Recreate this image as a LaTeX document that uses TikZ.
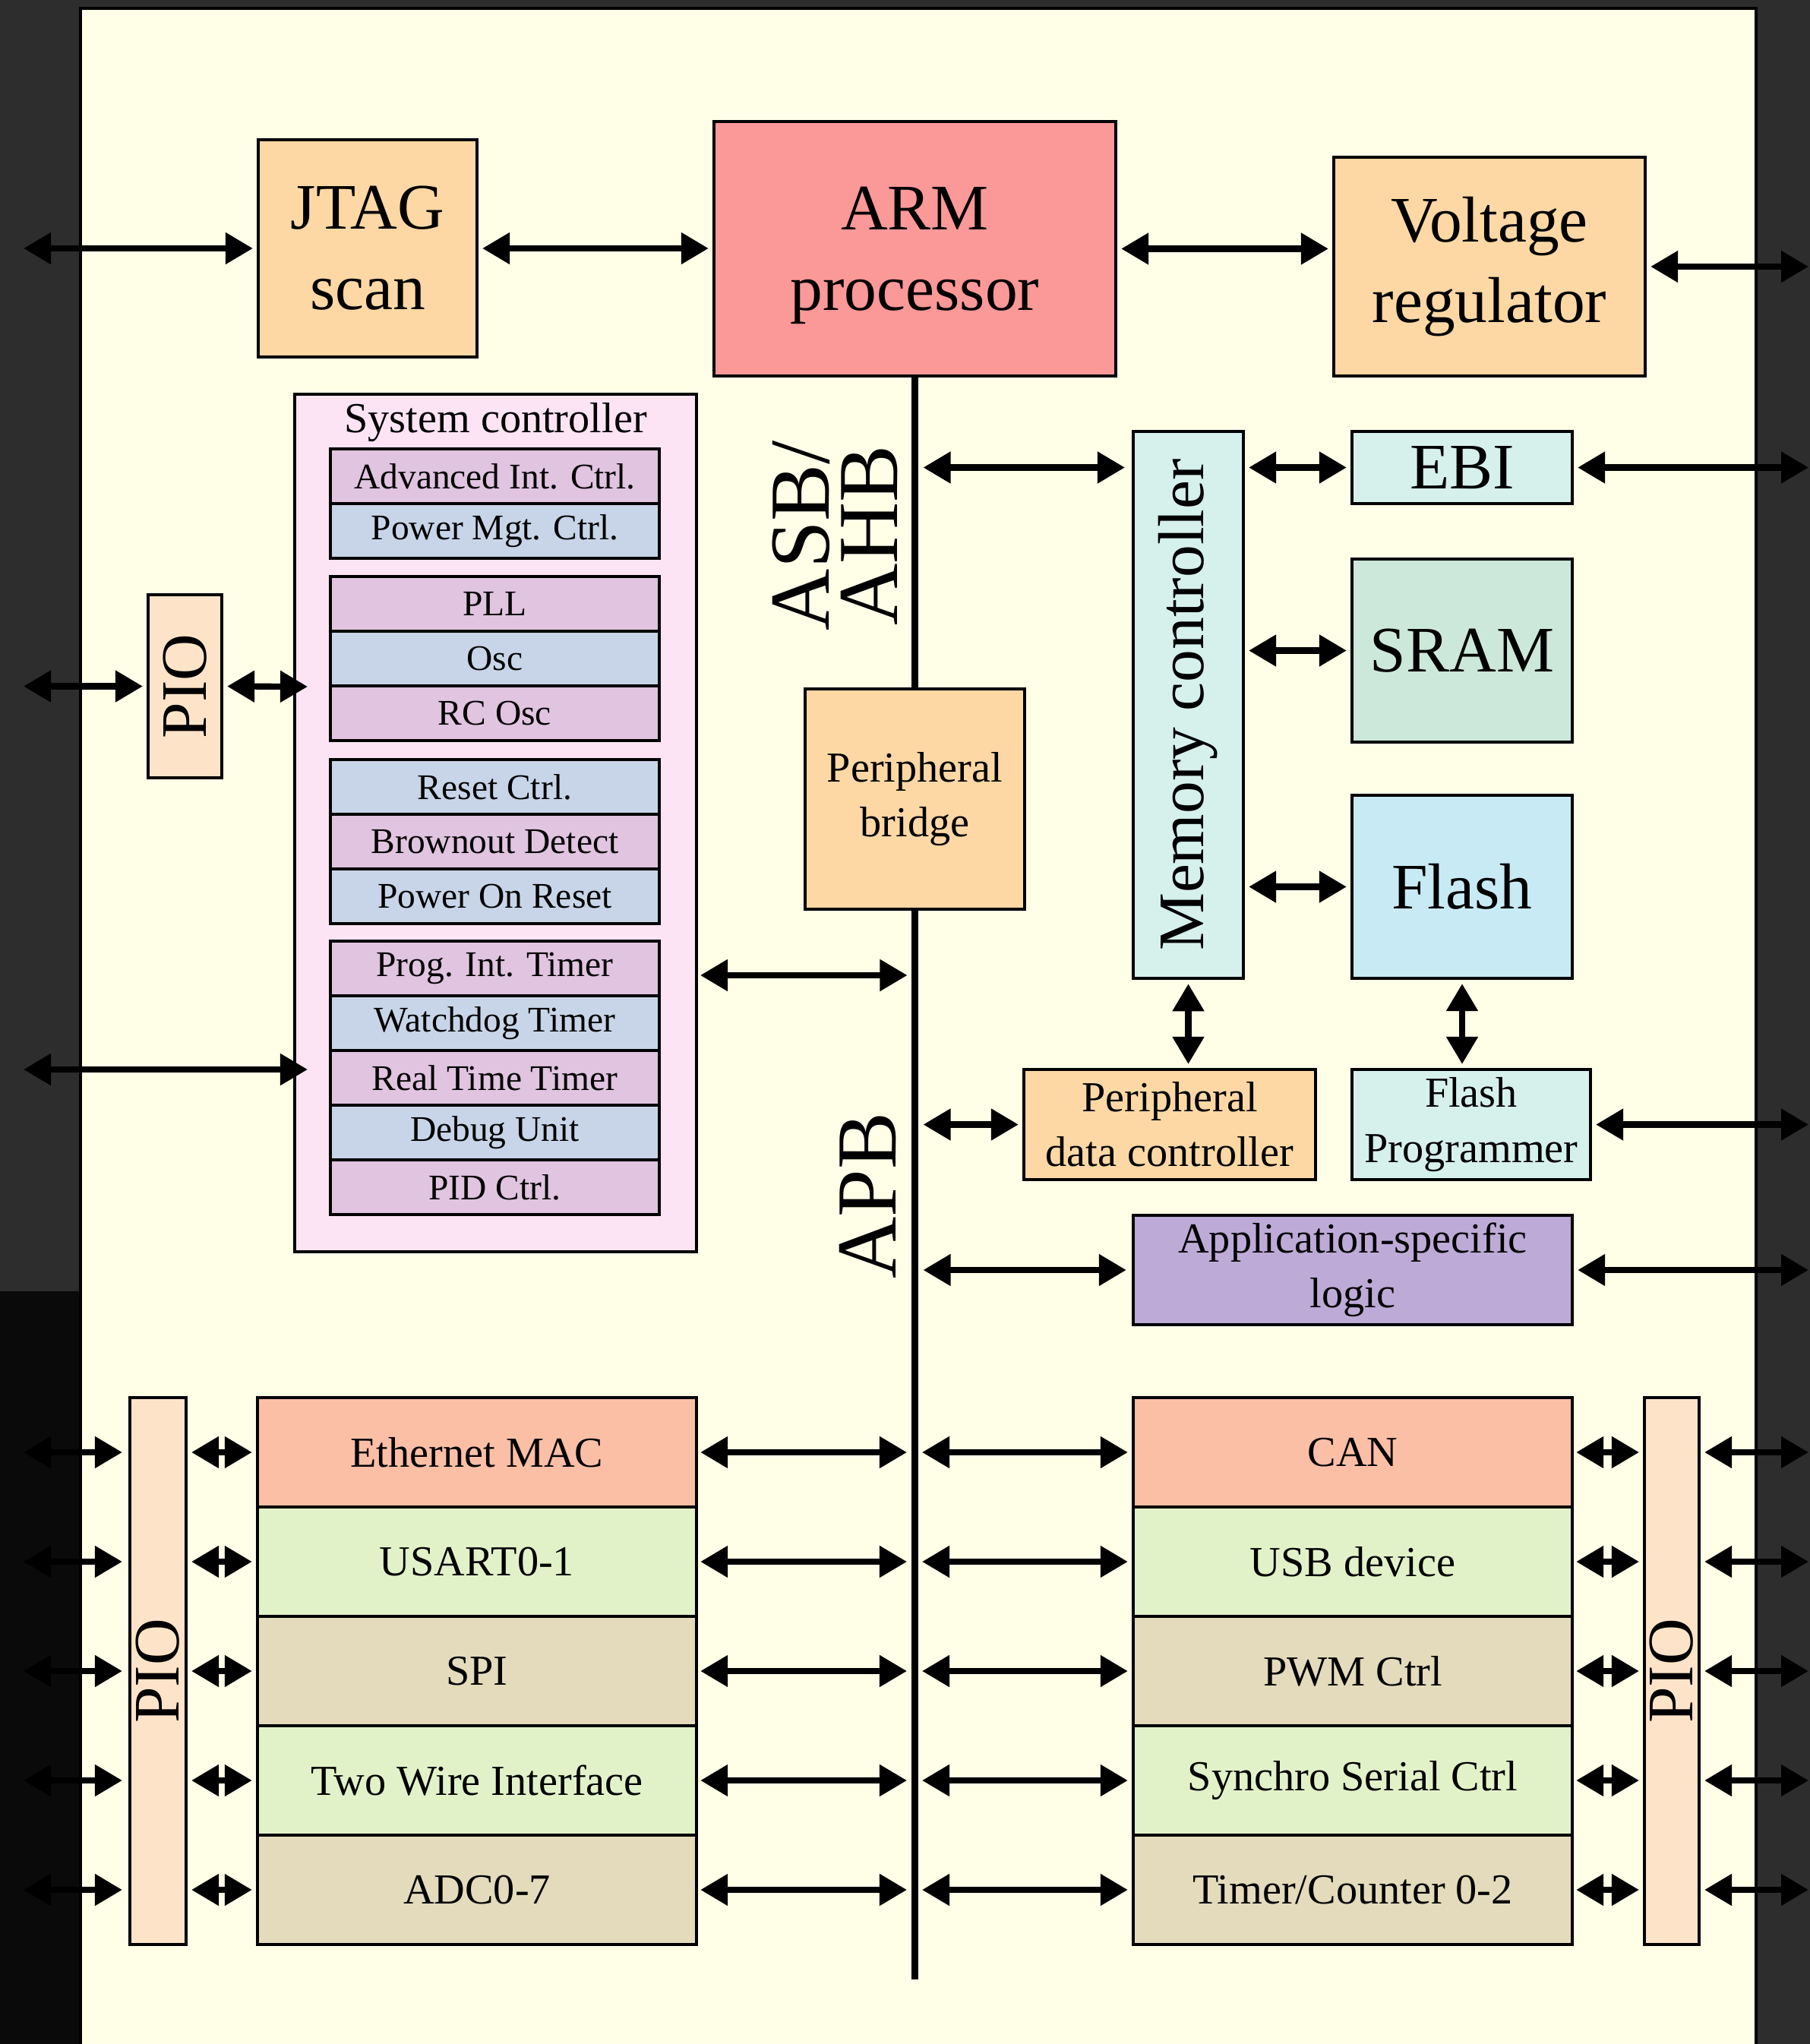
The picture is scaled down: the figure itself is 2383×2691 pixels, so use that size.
\documentclass[tikz,border=0pt]{standalone}
\usepackage{fontspec}
\setmainfont{Liberation Serif}
\usetikzlibrary{arrows.meta}
\definecolor{bgdark}{RGB}{45,45,45}
\definecolor{bgblack}{RGB}{10,10,10}
\definecolor{panel}{RGB}{255,255,232}
\definecolor{cpeach}{RGB}{253,216,164}
\definecolor{carm}{RGB}{251,152,152}
\definecolor{csys}{RGB}{252,228,244}
\definecolor{cpink}{RGB}{224,196,224}
\definecolor{cblue}{RGB}{200,213,232}
\definecolor{cpio}{RGB}{253,228,200}
\definecolor{ccyan}{RGB}{214,240,236}
\definecolor{csram}{RGB}{204,232,218}
\definecolor{cflash}{RGB}{200,234,244}
\definecolor{casl}{RGB}{190,170,215}
\definecolor{csalmon}{RGB}{251,191,166}
\definecolor{cgreen}{RGB}{226,242,200}
\definecolor{ctan}{RGB}{227,219,187}
\newcommand\fsXL{\fontsize{32}{25.6}\selectfont}
\newcommand\fsL{\fontsize{24.3}{30.2}\selectfont}
\newcommand\fsM{\fontsize{16}{20.5}\selectfont}
\newcommand\fsS{\fontsize{13.5}{16}\selectfont}
\tikzset{
  box/.style={draw=black, line width=1.15pt, inner sep=0pt, align=center, font=\fsM},
  cell/.style={box, font=\fsS, minimum width=4.33cm, minimum height=0.72cm},
  row/.style={box, minimum width=5.78cm, minimum height=1.44cm},
  dbl/.style={line width=2.3pt, {Triangle[length=0.36cm,width=0.40cm]}-{Triangle[length=0.36cm,width=0.40cm]}, shorten <=0.05cm, shorten >=0.05cm},
  busln/.style={line width=2.4pt},
}
\begin{document}
\begin{tikzpicture}[x=0.01cm,y=-0.01cm]
\useasboundingbox (0,0) rectangle (2383,2691);
\fill[bgdark] (0,0) rectangle (2383,2691);
\fill[bgblack] (0,1700) rectangle (106,2691);
\fill[panel] (106,11) rectangle (2312,2700);
\draw[line width=1.2pt] (106,2700) -- (106,11) -- (2312,11) -- (2312,2700);

% free ends
\coordinate (extl) at (26,0);
\coordinate (extr) at (2386,0);
\coordinate (bus) at (1204.5,2606);
\coordinate (scin) at (405,904);
\coordinate (sysin) at (405,1408);
\coordinate (scbus) at (917,1284);

% top row
\node[box, fill=cpeach, font=\fsL, minimum width=2.88cm, minimum height=2.86cm] (jtag) at (484,327) {JTAG\\scan};
\node[box, fill=carm, font=\fsL, text depth=0pt, minimum width=5.29cm, minimum height=3.35cm] (arm) at (1204.5,327.5) {ARM\\processor};
\node[box, fill=cpeach, font=\fsL, minimum width=4.10cm, minimum height=2.88cm] (volt) at (1961,351) {Voltage\\regulator};

% system controller
\node[box, fill=cpio, minimum width=0.97cm, minimum height=2.41cm] (pio1) at (243.5,903.5) {};
\node[rotate=90, font=\fsL] (pio1t) at (pio1) {PIO};
\node[box, fill=csys, minimum width=5.29cm, minimum height=11.29cm] (sysc) at (652.5,1083.5) {};
\node[font=\fsM] (sysct) at (652.5,556) {System controller};
\foreach \n/\y/\c/\t in {aic/627/cpink/{Advanced Int. Ctrl.}, pmc/699/cblue/{Power Mgt. Ctrl.},
  pll/795/cpink/{PLL}, osc/867/cblue/{Osc}, rco/939/cpink/{RC Osc},
  rst/1036/cblue/{Reset Ctrl.}, bod/1108/cpink/{Brownout Detect}, por/1180/cblue/{Power On Reset},
  pit/1275/cpink/{Prog. Int. Timer}, wdt/1347/cblue/{Watchdog Timer}, rtt/1419/cpink/{Real Time Timer},
  dbgu/1491/cblue/{Debug Unit}, pid/1563/cpink/{PID Ctrl.}}
  \node[cell, fill=\c] (\n) at (651.5,\y) {\t};

% bus and centre
\node[box, fill=cpeach, minimum width=2.89cm, minimum height=2.90cm] (pb) at (1204.5,1052) {Peripheral\\bridge};
\node[rotate=90, font=\fsXL, align=center] (asb) at (1099,705) {ASB/\\AHB};
\node[rotate=90, font=\fsXL] (apb) at (1143,1574) {APB};
\draw[busln] (arm.south) -- (pb.north);
\draw[busln] (pb.south) -- (bus);

% memory side
\node[box, fill=ccyan, minimum width=1.45cm, minimum height=7.20cm] (memc) at (1564.5,928) {};
\node[rotate=90, font=\fsL] (memct) at (memc) {Memory controller};
\node[box, fill=ccyan, font=\fsL, minimum width=2.90cm, minimum height=0.95cm] (ebi) at (1925,615.5) {EBI};
\node[box, fill=csram, font=\fsL, minimum width=2.90cm, minimum height=2.41cm] (sram) at (1925,856.5) {SRAM};
\node[box, fill=cflash, font=\fsL, minimum width=2.90cm, minimum height=2.41cm] (flash) at (1925,1167.5) {Flash};
\node[box, fill=ccyan, minimum width=3.14cm, minimum height=1.45cm] (fprog) at (1937,1480.5) {Flash\\Programmer};
\node[box, fill=cpeach, minimum width=3.84cm, minimum height=1.45cm] (pdc) at (1540,1480.5) {Peripheral\\data controller};
\node[box, fill=casl, minimum width=5.78cm, minimum height=1.44cm] (asl) at (1781,1672) {Application-specific\\logic};

% bottom stacks
\node[box, fill=cpio, minimum width=0.74cm, minimum height=7.20cm] (pio2) at (208,2200) {};
\node[rotate=90, font=\fsL] (pio2t) at (pio2) {PIO};
\node[box, fill=cpio, minimum width=0.72cm, minimum height=7.20cm] (pio3) at (2201,2200) {};
\node[rotate=90, font=\fsL] (pio3t) at (pio3) {PIO};
\foreach \n/\y/\c/\t in {eth/1912/csalmon/{Ethernet MAC}, usart/2056/cgreen/{USART0-1}, spi/2200/ctan/{SPI},
  twi/2344/cgreen/{Two Wire Interface}, adc/2488/ctan/{ADC0-7}}
  \node[row, fill=\c] (\n) at (628,\y) {\t};
\foreach \n/\y/\c/\t in {can/1912/csalmon/{CAN}, usb/2056/cgreen/{USB device}, pwm/2200/ctan/{PWM Ctrl},
  ssc/2344/cgreen/{Synchro Serial Ctrl}, tc/2488/ctan/{Timer/Counter 0-2}}
  \node[row, fill=\c] (\n) at (1781,\y) {\t};

% connectors: top
\draw[dbl] (jtag.west -| extl) -- (jtag.west);
\draw[dbl] (jtag.east) -- (jtag.east -| arm.west);
\draw[dbl] (arm.east) -- (arm.east -| volt.west);
\draw[dbl] (volt.east) -- (volt.east -| extr);

% system controller connectors
\draw[dbl] (pio1.west -| extl) -- (pio1.west);
\draw[dbl, shorten >=0pt] (pio1.east) -- (scin);
\draw[dbl, shorten >=0pt] (sysin -| extl) -- (sysin);
\draw[dbl, shorten >=0.10cm] (scbus) -- (scbus -| bus);

% memory connectors
\draw[dbl, shorten <=0.11cm, shorten >=0.09cm] (ebi.west -| bus) -- (ebi.west -| memc.west);
\draw[dbl] (ebi.west -| memc.east) -- (ebi.west);
\draw[dbl] (sram.west -| memc.east) -- (sram.west);
\draw[dbl] (flash.west -| memc.east) -- (flash.west);
\draw[dbl] (ebi.east) -- (ebi.east -| extr);
\draw[dbl] (memc.south) -- (memc.south |- pdc.north);
\draw[dbl] (flash.south) -- (flash.south |- fprog.north);
\draw[dbl, shorten <=0.11cm] (pdc.west -| bus) -- (pdc.west);
\draw[dbl] (fprog.east) -- (fprog.east -| extr);
\draw[dbl, shorten <=0.11cm, shorten >=0.07cm] (asl.west -| bus) -- (asl.west);
\draw[dbl] (asl.east) -- (asl.east -| extr);

% bottom connectors
\foreach \n in {eth,usart,spi,twi,adc}{
  \draw[dbl, shorten >=0.08cm] (\n.west -| extl) -- (\n.west -| pio2.west);
  \draw[dbl] (\n.west -| pio2.east) -- (\n.west);
  \draw[dbl, shorten <=0.03cm, shorten >=0.105cm] (\n.east) -- (\n.east -| bus);
}
\foreach \n in {can,usb,pwm,ssc,tc}{
  \draw[dbl, shorten <=0.095cm] (\n.west -| bus) -- (\n.west);
  \draw[dbl, shorten <=0.03cm] (\n.east) -- (\n.east -| pio3.west);
  \draw[dbl] (\n.east -| pio3.east) -- (\n.east -| extr);
}
\end{tikzpicture}
\end{document}
